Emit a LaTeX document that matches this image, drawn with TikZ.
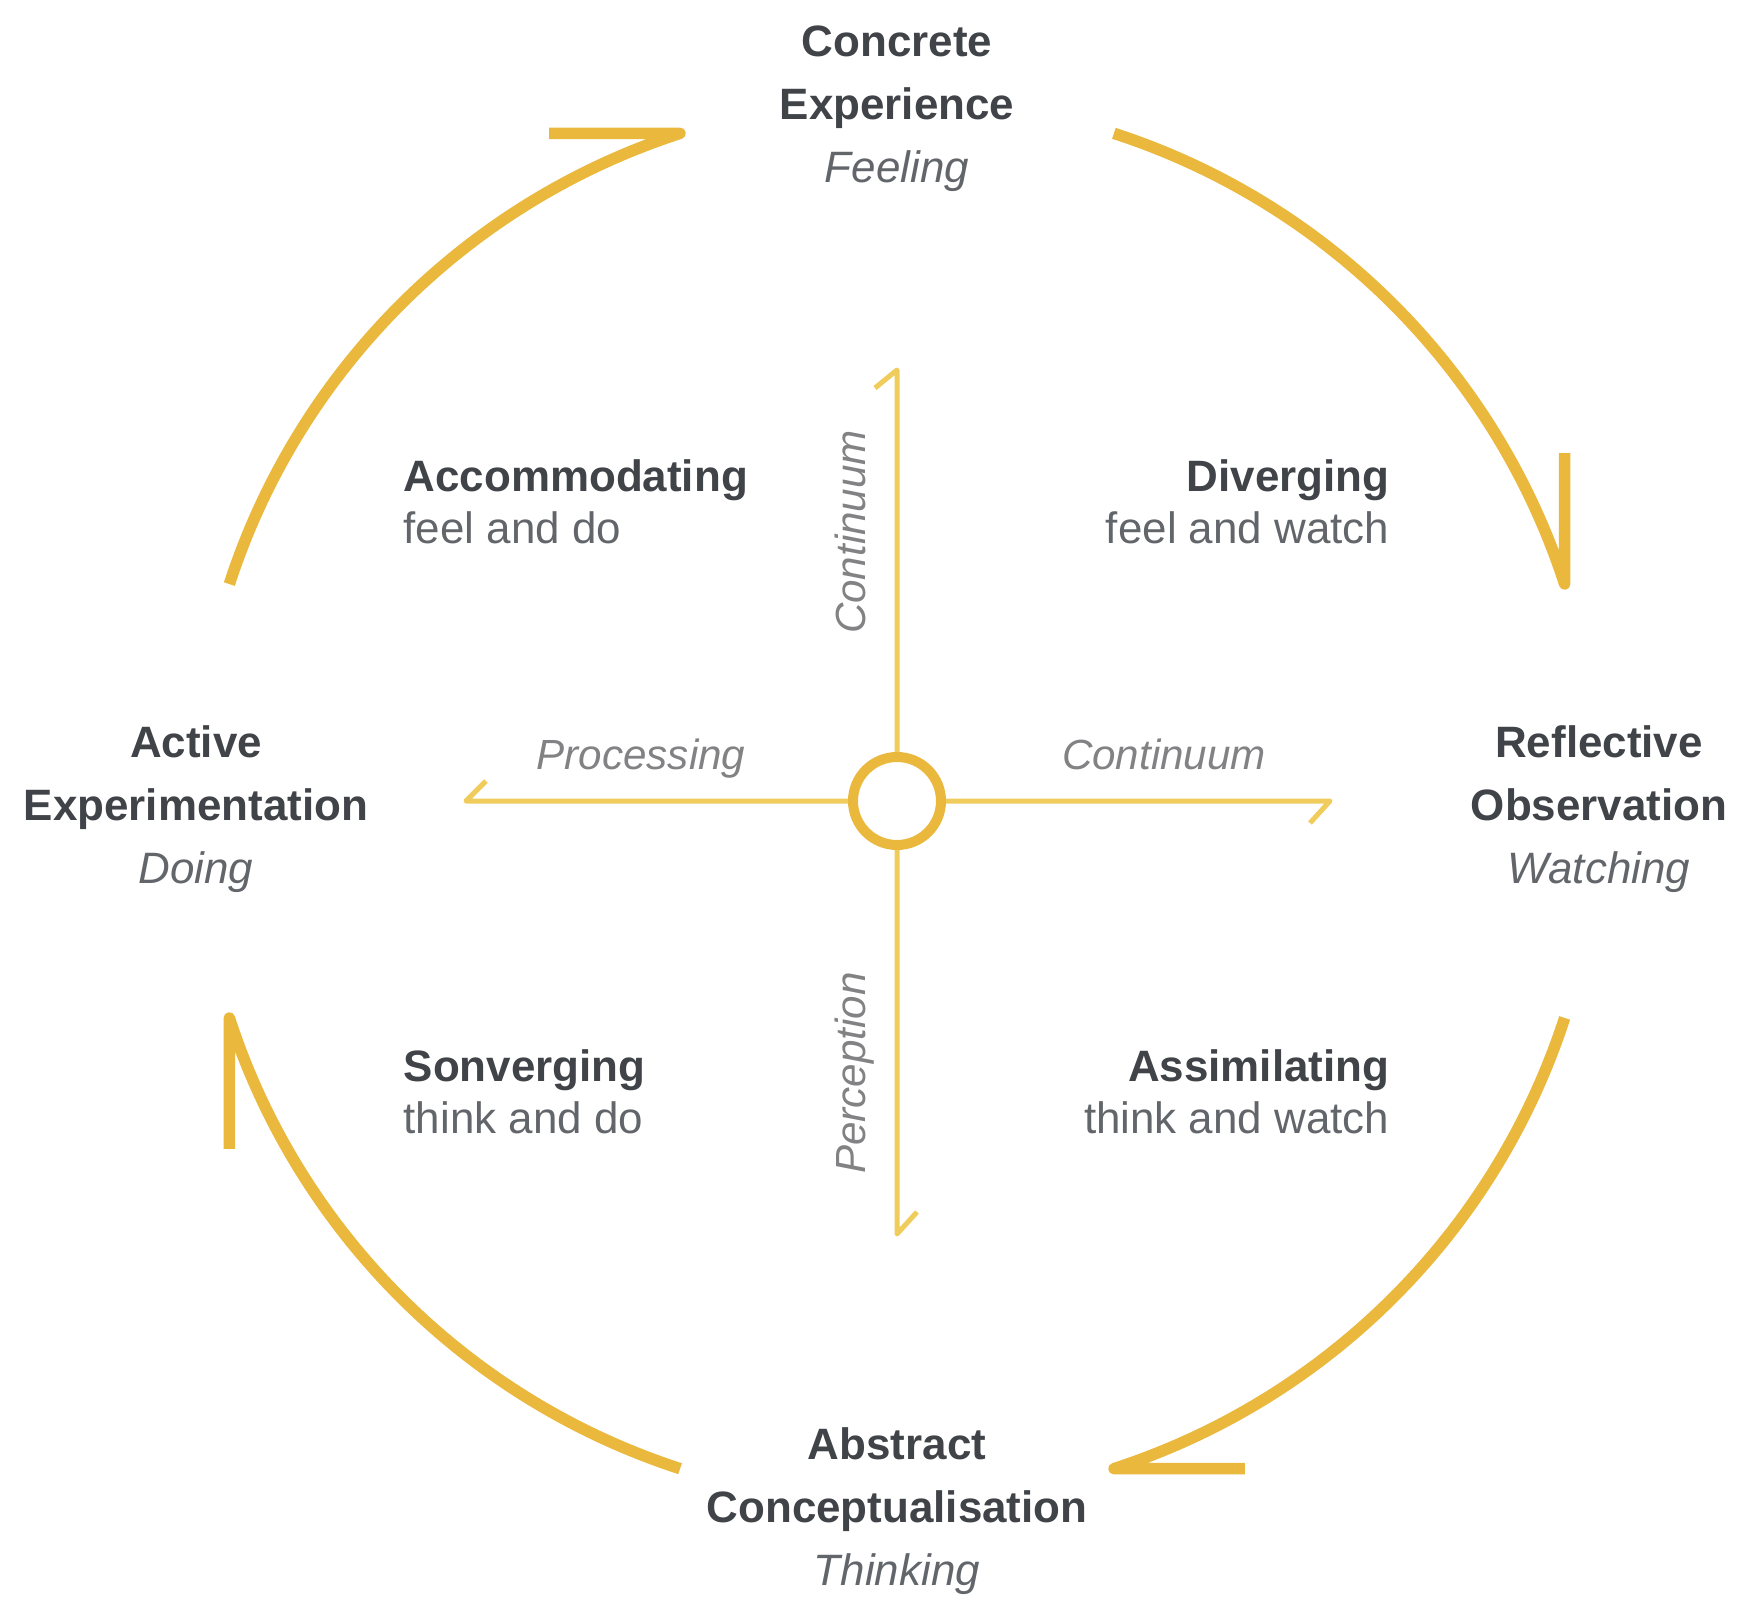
\documentclass[tikz,border=0pt]{standalone}
\usepackage{fontspec}
\setmainfont{Liberation Sans}
\definecolor{arcgold}{RGB}{233,184,60}
\definecolor{axisgold}{RGB}{240,204,92}
\definecolor{titlegray}{RGB}{64,67,71}
\definecolor{subgray}{RGB}{98,102,107}
\definecolor{axistextgray}{RGB}{130,130,132}
\tikzset{
  cycle arc/.style={draw=arcgold,line width=0.115cm,line join=round},
  axis line/.style={draw=axisgold,line width=0.05cm,line join=round},
  stage/.style={align=center,inner sep=0pt,text=titlegray,font=\fontsize{12.5}{17.9}\selectfont},
  quadrant/.style={inner sep=0pt,text=titlegray,font=\fontsize{12.5}{14.8}\selectfont},
  axis label/.style={inner sep=0pt,text=axistextgray,font=\fontsize{12}{14}\selectfont\itshape}
}

\begin{document}
\begin{tikzpicture}
        \useasboundingbox (-8.97,-8.21) rectangle (8.58,8.01);
        % the learning cycle
        \draw[cycle arc] (162:7.02) arc[start angle=162,end angle=108,radius=7.02] -- ++(-1.31,0);
        \draw[cycle arc] (72:7.02) arc[start angle=72,end angle=18,radius=7.02] -- ++(0,1.31);
        \draw[cycle arc] (-18:7.02) arc[start angle=-18,end angle=-72,radius=7.02] -- ++(1.31,0);
        \draw[cycle arc] (-108:7.02) arc[start angle=-108,end angle=-162,radius=7.02] -- ++(0,-1.31);
        % the two axes
        \node[circle,draw=arcgold,line width=0.1cm,minimum size=0.88cm,inner sep=0pt] (hub) at (0,0) {};
        \coordinate (west) at (-4.31,0);
        \coordinate (east) at (4.33,0);
        \coordinate (north) at (0,4.31);
        \coordinate (south) at (0,-4.33);
        \draw[axis line] (hub) -- (west) -- ++(0.2,0.2);
        \draw[axis line] (hub) -- (east) -- ++(-0.2,-0.22);
        \draw[axis line] (hub) -- (north) -- ++(-0.22,-0.18);
        \draw[axis line] (hub) -- (south) -- ++(0.2,0.22);
        \node[axis label,anchor=base] (processing) at (-2.56,0.32) {Processing};
        \node[axis label,anchor=base] (hcontinuum) at (2.67,0.32) {Continuum};
        \node[axis label,rotate=90,anchor=base] (vcontinuum) at (-0.32,2.69) {Continuum};
        \node[axis label,rotate=90,anchor=base] (perception) at (-0.32,-2.72) {Perception};
        % the four stages
        \node[stage] (concrete) at (0,6.92) {\textbf{Concrete}\\\textbf{Experience}\\{\color{subgray}\itshape Feeling}};
        \node[stage] (reflective) at (7.02,-0.08) {\textbf{Reflective}\\\textbf{Observation}\\{\color{subgray}\itshape Watching}};
        \node[stage] (abstract) at (0,-7.1) {\textbf{Abstract}\\\textbf{Conceptualisation}\\{\color{subgray}\itshape Thinking}};
        \node[stage] (active) at (-7.01,-0.08) {\textbf{Active}\\\textbf{Experimentation}\\{\color{subgray}\itshape Doing}};
        % the four styles
        \node[quadrant,align=left,anchor=west] (accommodating) at (-4.94,2.99) {\textbf{Accommodating}\\{\color{subgray}feel and do}};
        \node[quadrant,align=right,anchor=east] (diverging) at (4.93,2.99) {\textbf{Diverging}\\{\color{subgray}feel and watch}};
        \node[quadrant,align=left,anchor=west] (sonverging) at (-4.94,-2.91) {\textbf{Sonverging}\\{\color{subgray}think and do}};
        \node[quadrant,align=right,anchor=east] (assimilating) at (4.93,-2.91) {\textbf{Assimilating}\\{\color{subgray}think and watch}};
\end{tikzpicture}
\end{document}
